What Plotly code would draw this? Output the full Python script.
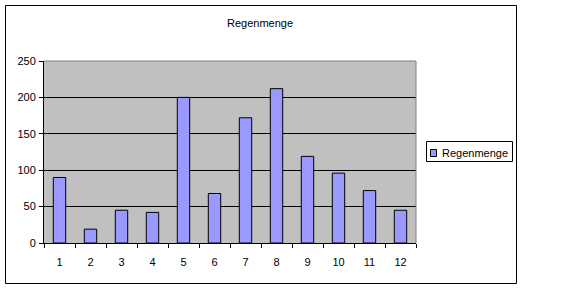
import plotly.graph_objects as go

months = ["1", "2", "3", "4", "5", "6", "7", "8", "9", "10", "11", "12"]
rain = [90, 19, 45, 42, 200, 68, 172, 212, 119, 96, 72, 45]
series_name = "Regenmenge"
y_ticks = [0, 50, 100, 150, 200, 250]

W, H = 574, 290
L, R, T, B = 44, 158, 61, 47
pw, ph = W - L - R, H - T - B

def px_x(p):
    return (p - L) / pw

def px_y(p):
    return (H - B - p) / ph

font = dict(family="Liberation Sans, Arial, sans-serif", size=11, color="black")
bar_color = "#9999FF"

fig = go.Figure()
fig.add_trace(go.Bar(
    x=months, y=rain, name=series_name,
    marker=dict(color=bar_color, line=dict(color="black", width=1)),
    width=0.4, showlegend=False,
))

fig.update_layout(
    width=W, height=H,
    margin=dict(l=L, r=R, t=T, b=B),
    paper_bgcolor="white",
    plot_bgcolor="#C0C0C0",
    font=font,
    title=dict(text=series_name, x=260 / W, xref="container", xanchor="center",
               y=1 - 23 / H, yref="container", yanchor="middle",
               font=dict(size=11)),
    showlegend=False,
)
fig.update_xaxes(
    type="category", tickson="boundaries", ticks="outside", ticklen=4,
    tickcolor="black", showline=True, linecolor="black", linewidth=1,
    showgrid=False, ticklabelstandoff=9, range=[-0.5, 11.5],
)
fig.update_yaxes(
    range=[0, 250], tickvals=y_ticks, ticks="outside", ticklen=4,
    tickcolor="black", showline=True, linecolor="black", linewidth=1,
    showgrid=True, gridcolor="black", gridwidth=1, zeroline=False,
    ticklabelstandoff=1,
)

shapes = [
    # plot area top/right border (gray)
    dict(type="line", xref="paper", yref="paper", x0=0, x1=1, y0=1, y1=1,
         line=dict(color="#808080", width=1)),
    dict(type="line", xref="paper", yref="paper", x0=1, x1=1, y0=0, y1=1,
         line=dict(color="#808080", width=1)),
    # chart area frame
    dict(type="rect", xref="paper", yref="paper",
         x0=px_x(5.5), x1=px_x(516.5), y0=px_y(283.5), y1=px_y(5.5),
         line=dict(color="black", width=1), layer="below"),
    # legend box
    dict(type="rect", xref="paper", yref="paper",
         x0=px_x(426.5), x1=px_x(512.5), y0=px_y(161.5), y1=px_y(141.5),
         line=dict(color="black", width=1), fillcolor="white"),
    # legend key
    dict(type="rect", xref="paper", yref="paper",
         x0=px_x(430.5), x1=px_x(436.5), y0=px_y(156.5), y1=px_y(149.5),
         line=dict(color="black", width=1), fillcolor=bar_color),
]
fig.update_layout(shapes=shapes)
fig.add_annotation(text=series_name, xref="paper", yref="paper",
                   x=px_x(439.5), xanchor="left", y=px_y(152.5), yanchor="middle",
                   showarrow=False, font=dict(size=11))

fig.write_html("out.html")
